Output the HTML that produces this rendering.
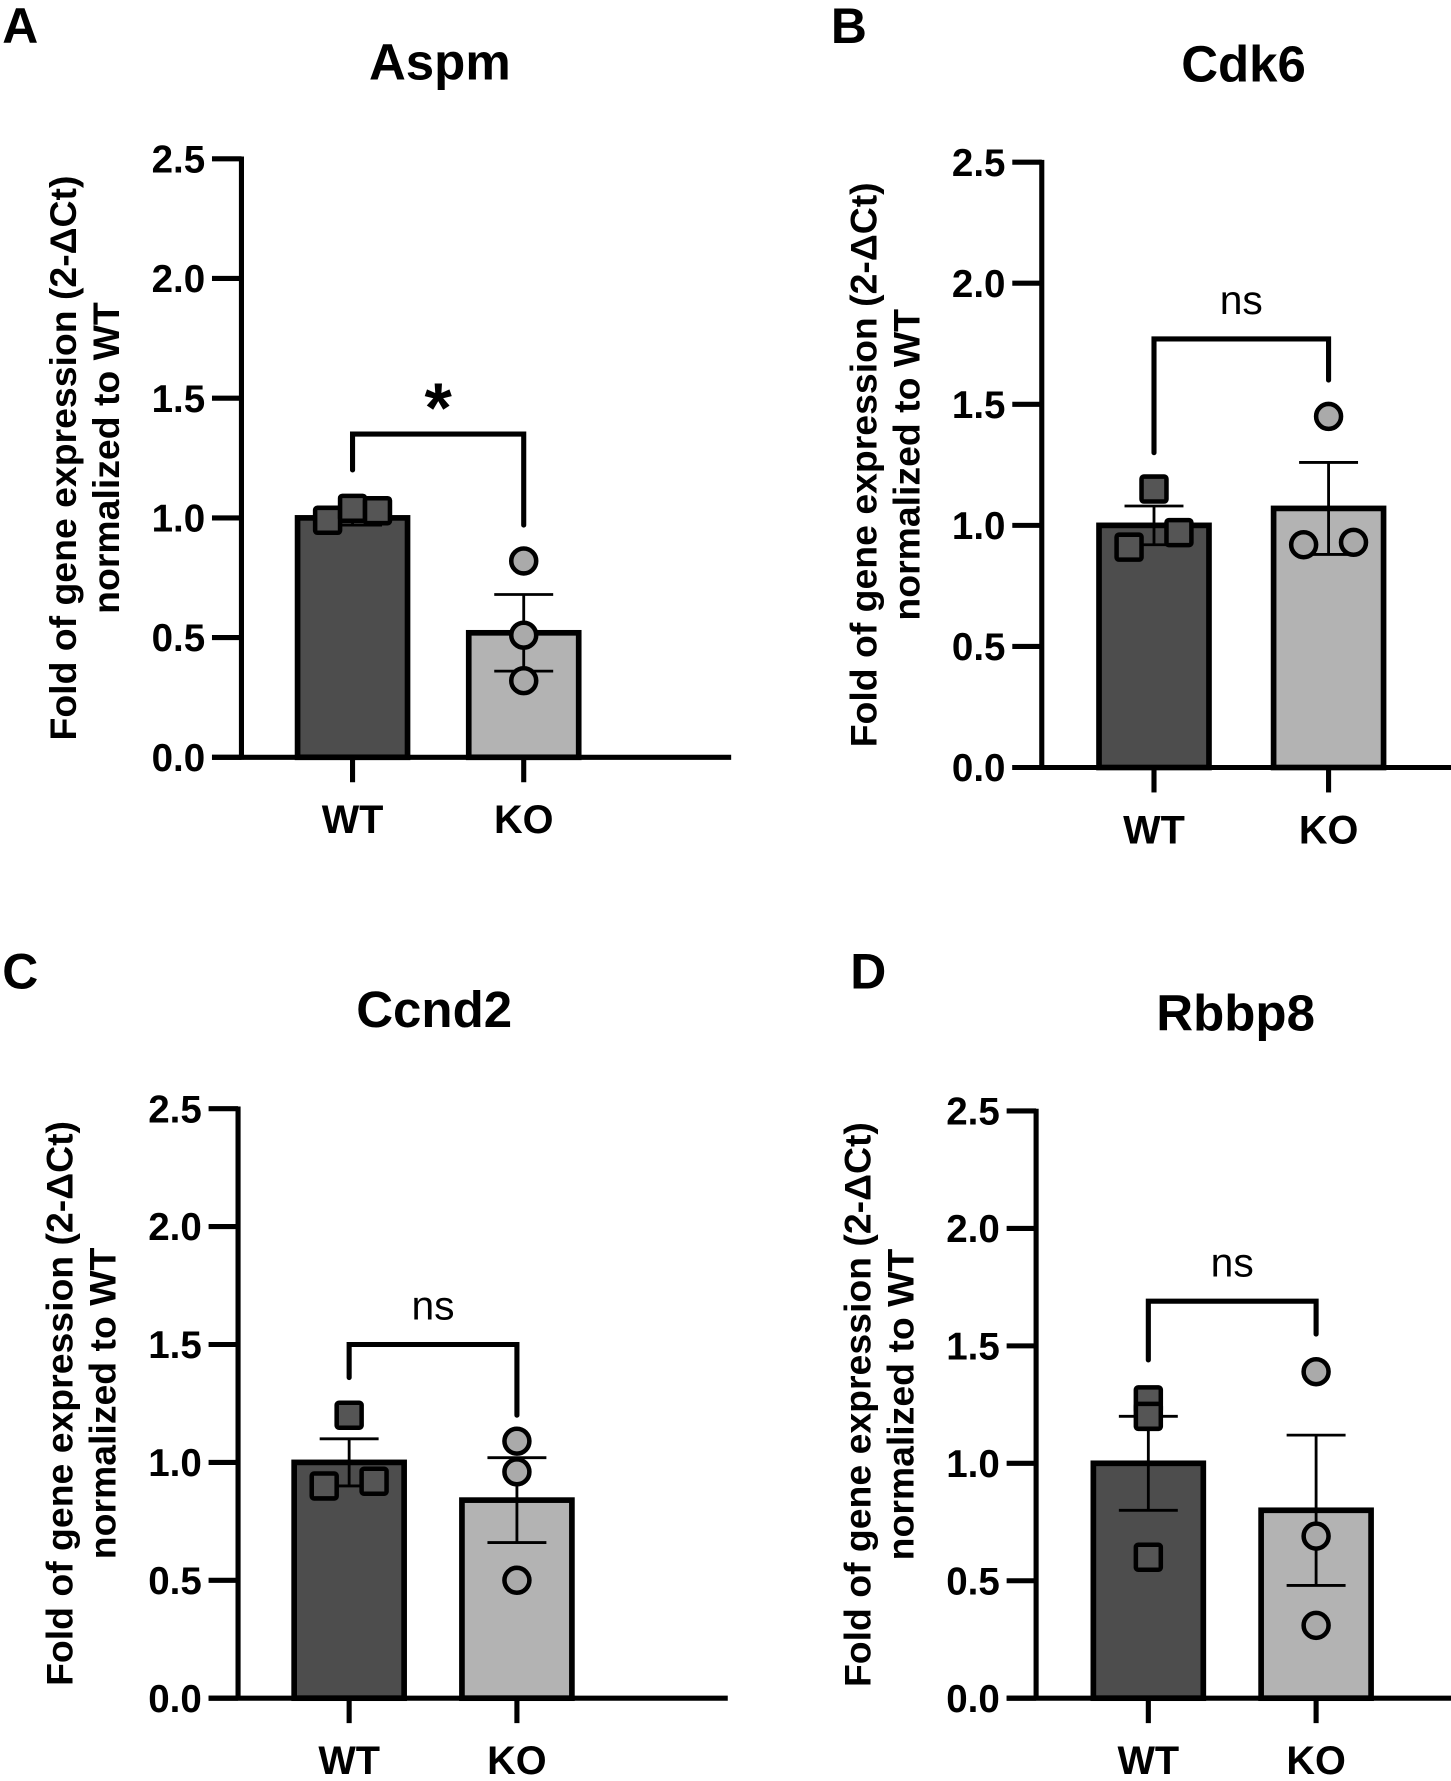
<!DOCTYPE html>
<html><head><meta charset="utf-8"><style>
html,body{margin:0;padding:0;background:#fff}
svg{display:block}
text{font-family:"Liberation Sans",Arial,sans-serif}
</style></head><body>
<svg id="fig" width="1451" height="1781" viewBox="0 0 1280 1571" xmlns="http://www.w3.org/2000/svg"></svg>
<script>
const panelLetters = ["A","B","C","D"];
const geneTitles = ["Aspm","Cdk6","Ccnd2","Rbbp8"];
const categories = ["WT","KO"];
const tickLabels = ["0.0","0.5","1.0","1.5","2.0","2.5"];
const tickValues = [0,0.5,1.0,1.5,2.0,2.5];
const wtMeans = [1.0, 1.0, 1.0, 1.0];
const koMeans = [0.52, 1.07, 0.84, 0.80];
const wtSem = [0.03, 0.08, 0.10, 0.20];
const koSem = [0.16, 0.19, 0.18, 0.32];
const wtPoints = [[0.99,1.04,1.03],[1.15,0.91,0.97],[1.20,0.90,0.92],[1.27,1.20,0.60]];
const koPoints = [[0.82,0.51,0.32],[1.45,0.92,0.93],[1.09,0.96,0.50],[1.39,0.69,0.31]];
const sigLabels = ["*","ns","ns","ns"];
const bracketY = [1.35,1.77,1.50,1.69];
const bracketLeftEnd = [1.20,1.30,1.36,1.44];
const bracketRightEnd = [0.97,1.60,1.20,1.55];

const layouts = [
  {ax:213,y0:668,y25:140,t1:311,t2:462,lx:2,ly:38,tx:388,ty:70,wo:[-22,0,22],ko:[0,0,0]},
  {ax:919,y0:677,y25:143,t1:1018,t2:1172,lx:733,ly:38,tx:1097,ty:72,wo:[0,-22,22],ko:[0,-22,22]},
  {ax:210,y0:1498,y25:978,t1:308,t2:456,lx:2,ly:872,tx:383,ty:906,wo:[0,-22,22],ko:[0,0,0]},
  {ax:914,y0:1498,y25:980,t1:1013,t2:1161,lx:750,ly:872,tx:1090,ty:909,wo:[0,0,0],ko:[0,0,0]}
];
const NS="http://www.w3.org/2000/svg";
const svg=document.getElementById('fig');
function mk(tag,attrs,parent,txt){const e=document.createElementNS(NS,tag);for(const k in attrs)e.setAttribute(k,attrs[k]);if(txt!==undefined)e.textContent=txt;(parent||svg).appendChild(e);return e;}

layouts.forEach((L,i)=>{
  const g=mk('g',{});
  
  
  const y=v=>L.y0-(v/2.5)*(L.y0-L.y25);
  const t=mk('text',{x:L.lx,y:L.ly,'font-size':44,'font-weight':'bold'},g,panelLetters[i]);
  
  
  const ti=mk('text',{x:L.tx,y:L.ty,'font-size':45,'font-weight':'bold','text-anchor':'middle'},g,geneTitles[i]);
  
  
  const cy=(L.y0+L.y25)/2;
  const yt=mk('text',{transform:`translate(${L.ax-146},${cy}) rotate(-90)`,'font-size':33,'font-weight':'bold','text-anchor':'middle'},g);
  
  
  mk('tspan',{x:0,dy:0},yt,'Fold of gene expression (2-ΔCt)');
  mk('tspan',{x:0,dy:38},yt,'normalized to WT');
  const bw=97;
  const bars=[[L.t1,wtMeans[i],'#4d4d4d','bar-wt'],[L.t2,koMeans[i],'#b3b3b3','bar-ko']];
  bars.forEach(b=>{
    const r=mk('rect',{x:b[0]-bw/2,y:y(b[1]),width:bw,height:L.y0-y(b[1]),fill:b[2],stroke:'#000','stroke-width':5},g);
    
    
  });
  [[L.t1,wtMeans[i],wtSem[i]],[L.t2,koMeans[i],koSem[i]]].forEach(e=>{
    const eg=mk('g',{stroke:'#000','stroke-width':2.5},g);
    
    
    mk('line',{x1:e[0],x2:e[0],y1:y(e[1]-e[2]),y2:y(e[1]+e[2])},eg);
    mk('line',{x1:e[0]-26,x2:e[0]+26,y1:y(e[1]+e[2]),y2:y(e[1]+e[2])},eg);
    mk('line',{x1:e[0]-26,x2:e[0]+26,y1:y(e[1]-e[2]),y2:y(e[1]-e[2])},eg);
  });
  wtPoints[i].forEach((v,j)=>{
    const p=mk('rect',{x:L.t1+L.wo[j]-11,y:y(v)-11,width:22,height:22,rx:2,fill:'#555',stroke:'#000','stroke-width':4},g);
    
    
  });
  koPoints[i].forEach((v,j)=>{
    const p=mk('circle',{cx:L.t2+L.ko[j],cy:y(v),r:11,fill:'#aaa',stroke:'#000','stroke-width':4},g);
    
    
  });
  const ag=mk('g',{stroke:'#000','stroke-width':4.5,fill:'none'},g);
  
  
  mk('line',{x1:L.ax,x2:L.ax,y1:L.y25-2,y2:L.y0+2},ag);
  mk('line',{x1:L.ax-26,x2:L.ax+432,y1:L.y0,y2:L.y0},ag);
  tickValues.forEach(v=>mk('line',{x1:L.ax-26,x2:L.ax,y1:y(v),y2:y(v)},ag));
  [L.t1,L.t2].forEach(x=>mk('line',{x1:x,x2:x,y1:L.y0,y2:L.y0+22},ag));
  tickLabels.forEach((s,k)=>{
    const tl=mk('text',{x:L.ax-32,y:y(tickValues[k])+12,'font-size':34,'font-weight':'bold','text-anchor':'end'},g,s);
    
    
  });
  categories.forEach((c,k)=>{
    const cl=mk('text',{x:k?L.t2:L.t1,y:L.y0+67,'font-size':35,'font-weight':'bold','text-anchor':'middle'},g,c);
    
    
  });
  const br=mk('path',{d:`M${L.t1},${y(bracketLeftEnd[i])} L${L.t1},${y(bracketY[i])} L${L.t2},${y(bracketY[i])} L${L.t2},${y(bracketRightEnd[i])}`,stroke:'#000','stroke-width':4.5,fill:'none','stroke-linecap':'round'},g);
  
  
  const star=sigLabels[i]==='*';
  const sl=mk('text',{x:(L.t1+L.t2)/2,y:y(bracketY[i])-(star?2:22),'font-size':star?62:36,'font-weight':star?'bold':'normal','text-anchor':'middle'},g,sigLabels[i]);
  
  
});
</script>
</body></html>
